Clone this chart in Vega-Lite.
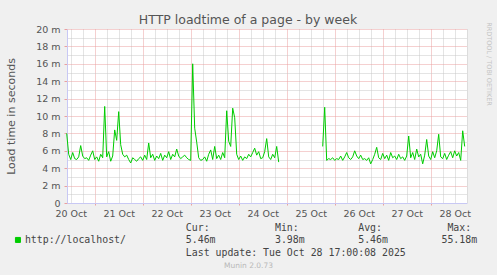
{
  "$schema": "https://vega.github.io/schema/vega-lite/v6.json",
  "width": 400,
  "height": 174,
  "autosize": "none",
  "padding": {"left": 67, "top": 29, "right": 30, "bottom": 72},
  "background": "#f0f0f0",
  "view": {"fill": "#ffffff", "stroke": null},
  "title": {"text": "HTTP loadtime of a page - by week", "font": "DejaVu Sans", "fontSize": 12.5, "fontWeight": "normal", "color": "#555555", "anchor": "middle", "frame": "group", "dx": -19, "dy": 20, "baseline": "alphabetic", "offset": 5},
  "data": {"values": [
    {"t": "2025-10-20T10:00Z", "v": 8.0, "s": "a"},
    {"t": "2025-10-20T11:00Z", "v": 5.6, "s": "a"},
    {"t": "2025-10-20T12:00Z", "v": 5.0, "s": "a"},
    {"t": "2025-10-20T13:00Z", "v": 5.8, "s": "a"},
    {"t": "2025-10-20T14:00Z", "v": 5.1, "s": "a"},
    {"t": "2025-10-20T15:00Z", "v": 5.0, "s": "a"},
    {"t": "2025-10-20T16:00Z", "v": 5.3, "s": "a"},
    {"t": "2025-10-20T17:00Z", "v": 6.6, "s": "a"},
    {"t": "2025-10-20T18:00Z", "v": 5.4, "s": "a"},
    {"t": "2025-10-20T19:00Z", "v": 5.1, "s": "a"},
    {"t": "2025-10-20T20:00Z", "v": 5.2, "s": "a"},
    {"t": "2025-10-20T21:00Z", "v": 4.9, "s": "a"},
    {"t": "2025-10-20T22:00Z", "v": 5.5, "s": "a"},
    {"t": "2025-10-20T23:00Z", "v": 6.0, "s": "a"},
    {"t": "2025-10-21T00:00Z", "v": 5.0, "s": "a"},
    {"t": "2025-10-21T01:00Z", "v": 5.3, "s": "a"},
    {"t": "2025-10-21T02:00Z", "v": 4.8, "s": "a"},
    {"t": "2025-10-21T03:00Z", "v": 5.6, "s": "a"},
    {"t": "2025-10-21T04:00Z", "v": 5.2, "s": "a"},
    {"t": "2025-10-21T05:00Z", "v": 11.1, "s": "a"},
    {"t": "2025-10-21T06:00Z", "v": 5.3, "s": "a"},
    {"t": "2025-10-21T07:00Z", "v": 5.9, "s": "a"},
    {"t": "2025-10-21T08:00Z", "v": 4.8, "s": "a"},
    {"t": "2025-10-21T09:00Z", "v": 5.4, "s": "a"},
    {"t": "2025-10-21T10:00Z", "v": 8.4, "s": "a"},
    {"t": "2025-10-21T11:00Z", "v": 7.2, "s": "a"},
    {"t": "2025-10-21T12:00Z", "v": 10.5, "s": "a"},
    {"t": "2025-10-21T13:00Z", "v": 6.7, "s": "a"},
    {"t": "2025-10-21T14:00Z", "v": 5.6, "s": "a"},
    {"t": "2025-10-21T15:00Z", "v": 5.3, "s": "a"},
    {"t": "2025-10-21T16:00Z", "v": 5.5, "s": "a"},
    {"t": "2025-10-21T17:00Z", "v": 5.0, "s": "a"},
    {"t": "2025-10-21T18:00Z", "v": 4.6, "s": "a"},
    {"t": "2025-10-21T19:00Z", "v": 5.2, "s": "a"},
    {"t": "2025-10-21T20:00Z", "v": 5.0, "s": "a"},
    {"t": "2025-10-21T21:00Z", "v": 4.8, "s": "a"},
    {"t": "2025-10-21T22:00Z", "v": 5.1, "s": "a"},
    {"t": "2025-10-21T23:00Z", "v": 5.3, "s": "a"},
    {"t": "2025-10-22T00:00Z", "v": 4.9, "s": "a"},
    {"t": "2025-10-22T01:00Z", "v": 5.5, "s": "a"},
    {"t": "2025-10-22T02:00Z", "v": 5.0, "s": "a"},
    {"t": "2025-10-22T03:00Z", "v": 6.9, "s": "a"},
    {"t": "2025-10-22T04:00Z", "v": 5.2, "s": "a"},
    {"t": "2025-10-22T05:00Z", "v": 5.6, "s": "a"},
    {"t": "2025-10-22T06:00Z", "v": 4.9, "s": "a"},
    {"t": "2025-10-22T07:00Z", "v": 5.4, "s": "a"},
    {"t": "2025-10-22T08:00Z", "v": 5.1, "s": "a"},
    {"t": "2025-10-22T09:00Z", "v": 5.7, "s": "a"},
    {"t": "2025-10-22T10:00Z", "v": 4.9, "s": "a"},
    {"t": "2025-10-22T11:00Z", "v": 5.5, "s": "a"},
    {"t": "2025-10-22T12:00Z", "v": 5.2, "s": "a"},
    {"t": "2025-10-22T13:00Z", "v": 5.9, "s": "a"},
    {"t": "2025-10-22T14:00Z", "v": 5.0, "s": "a"},
    {"t": "2025-10-22T15:00Z", "v": 5.6, "s": "a"},
    {"t": "2025-10-22T16:00Z", "v": 5.3, "s": "a"},
    {"t": "2025-10-22T17:00Z", "v": 6.2, "s": "a"},
    {"t": "2025-10-22T18:00Z", "v": 5.4, "s": "a"},
    {"t": "2025-10-22T19:00Z", "v": 5.1, "s": "a"},
    {"t": "2025-10-22T20:00Z", "v": 5.3, "s": "a"},
    {"t": "2025-10-22T21:00Z", "v": 5.5, "s": "a"},
    {"t": "2025-10-22T22:00Z", "v": 5.2, "s": "a"},
    {"t": "2025-10-22T23:00Z", "v": 5.0, "s": "a"},
    {"t": "2025-10-23T00:00Z", "v": 4.9, "s": "a"},
    {"t": "2025-10-23T01:00Z", "v": 16.0, "s": "a"},
    {"t": "2025-10-23T02:00Z", "v": 8.6, "s": "a"},
    {"t": "2025-10-23T03:00Z", "v": 7.0, "s": "a"},
    {"t": "2025-10-23T04:00Z", "v": 5.2, "s": "a"},
    {"t": "2025-10-23T05:00Z", "v": 4.9, "s": "a"},
    {"t": "2025-10-23T06:00Z", "v": 5.0, "s": "a"},
    {"t": "2025-10-23T07:00Z", "v": 5.3, "s": "a"},
    {"t": "2025-10-23T08:00Z", "v": 4.8, "s": "a"},
    {"t": "2025-10-23T09:00Z", "v": 5.6, "s": "a"},
    {"t": "2025-10-23T10:00Z", "v": 6.1, "s": "a"},
    {"t": "2025-10-23T11:00Z", "v": 5.0, "s": "a"},
    {"t": "2025-10-23T12:00Z", "v": 6.5, "s": "a"},
    {"t": "2025-10-23T13:00Z", "v": 5.1, "s": "a"},
    {"t": "2025-10-23T14:00Z", "v": 5.5, "s": "a"},
    {"t": "2025-10-23T15:00Z", "v": 5.0, "s": "a"},
    {"t": "2025-10-23T16:00Z", "v": 5.8, "s": "a"},
    {"t": "2025-10-23T17:00Z", "v": 5.2, "s": "a"},
    {"t": "2025-10-23T18:00Z", "v": 10.6, "s": "a"},
    {"t": "2025-10-23T19:00Z", "v": 7.1, "s": "a"},
    {"t": "2025-10-23T20:00Z", "v": 6.5, "s": "a"},
    {"t": "2025-10-23T21:00Z", "v": 10.9, "s": "a"},
    {"t": "2025-10-23T22:00Z", "v": 9.8, "s": "a"},
    {"t": "2025-10-23T23:00Z", "v": 5.6, "s": "a"},
    {"t": "2025-10-24T00:00Z", "v": 5.0, "s": "a"},
    {"t": "2025-10-24T01:00Z", "v": 5.4, "s": "a"},
    {"t": "2025-10-24T02:00Z", "v": 4.9, "s": "a"},
    {"t": "2025-10-24T03:00Z", "v": 5.3, "s": "a"},
    {"t": "2025-10-24T04:00Z", "v": 5.1, "s": "a"},
    {"t": "2025-10-24T05:00Z", "v": 5.6, "s": "a"},
    {"t": "2025-10-24T06:00Z", "v": 5.3, "s": "a"},
    {"t": "2025-10-24T07:00Z", "v": 5.8, "s": "a"},
    {"t": "2025-10-24T08:00Z", "v": 6.3, "s": "a"},
    {"t": "2025-10-24T09:00Z", "v": 5.5, "s": "a"},
    {"t": "2025-10-24T10:00Z", "v": 5.9, "s": "a"},
    {"t": "2025-10-24T11:00Z", "v": 5.1, "s": "a"},
    {"t": "2025-10-24T12:00Z", "v": 5.2, "s": "a"},
    {"t": "2025-10-24T13:00Z", "v": 5.9, "s": "a"},
    {"t": "2025-10-24T14:00Z", "v": 7.4, "s": "a"},
    {"t": "2025-10-24T15:00Z", "v": 5.3, "s": "a"},
    {"t": "2025-10-24T16:00Z", "v": 5.0, "s": "a"},
    {"t": "2025-10-24T17:00Z", "v": 5.6, "s": "a"},
    {"t": "2025-10-24T18:00Z", "v": 5.2, "s": "a"},
    {"t": "2025-10-24T19:00Z", "v": 6.5, "s": "a"},
    {"t": "2025-10-24T20:00Z", "v": 4.7, "s": "a"},
    {"t": "2025-10-25T18:00Z", "v": 6.5, "s": "b"},
    {"t": "2025-10-25T19:00Z", "v": 11.0, "s": "b"},
    {"t": "2025-10-25T20:00Z", "v": 4.9, "s": "b"},
    {"t": "2025-10-25T21:00Z", "v": 5.1, "s": "b"},
    {"t": "2025-10-25T22:00Z", "v": 5.0, "s": "b"},
    {"t": "2025-10-25T23:00Z", "v": 5.2, "s": "b"},
    {"t": "2025-10-26T00:00Z", "v": 4.9, "s": "b"},
    {"t": "2025-10-26T01:00Z", "v": 5.1, "s": "b"},
    {"t": "2025-10-26T02:00Z", "v": 5.0, "s": "b"},
    {"t": "2025-10-26T03:00Z", "v": 5.4, "s": "b"},
    {"t": "2025-10-26T04:00Z", "v": 4.9, "s": "b"},
    {"t": "2025-10-26T05:00Z", "v": 5.3, "s": "b"},
    {"t": "2025-10-26T06:00Z", "v": 5.8, "s": "b"},
    {"t": "2025-10-26T07:00Z", "v": 5.2, "s": "b"},
    {"t": "2025-10-26T08:00Z", "v": 5.0, "s": "b"},
    {"t": "2025-10-26T09:00Z", "v": 5.3, "s": "b"},
    {"t": "2025-10-26T10:00Z", "v": 6.0, "s": "b"},
    {"t": "2025-10-26T11:00Z", "v": 5.4, "s": "b"},
    {"t": "2025-10-26T12:00Z", "v": 5.1, "s": "b"},
    {"t": "2025-10-26T13:00Z", "v": 5.5, "s": "b"},
    {"t": "2025-10-26T14:00Z", "v": 5.0, "s": "b"},
    {"t": "2025-10-26T15:00Z", "v": 5.1, "s": "b"},
    {"t": "2025-10-26T16:00Z", "v": 4.9, "s": "b"},
    {"t": "2025-10-26T17:00Z", "v": 5.2, "s": "b"},
    {"t": "2025-10-26T18:00Z", "v": 4.5, "s": "b"},
    {"t": "2025-10-26T19:00Z", "v": 5.0, "s": "b"},
    {"t": "2025-10-26T20:00Z", "v": 5.6, "s": "b"},
    {"t": "2025-10-26T21:00Z", "v": 6.4, "s": "b"},
    {"t": "2025-10-26T22:00Z", "v": 5.2, "s": "b"},
    {"t": "2025-10-26T23:00Z", "v": 5.0, "s": "b"},
    {"t": "2025-10-27T00:00Z", "v": 5.7, "s": "b"},
    {"t": "2025-10-27T01:00Z", "v": 5.1, "s": "b"},
    {"t": "2025-10-27T02:00Z", "v": 5.5, "s": "b"},
    {"t": "2025-10-27T03:00Z", "v": 4.9, "s": "b"},
    {"t": "2025-10-27T04:00Z", "v": 5.8, "s": "b"},
    {"t": "2025-10-27T05:00Z", "v": 5.2, "s": "b"},
    {"t": "2025-10-27T06:00Z", "v": 5.4, "s": "b"},
    {"t": "2025-10-27T07:00Z", "v": 5.0, "s": "b"},
    {"t": "2025-10-27T08:00Z", "v": 5.6, "s": "b"},
    {"t": "2025-10-27T09:00Z", "v": 5.1, "s": "b"},
    {"t": "2025-10-27T10:00Z", "v": 5.3, "s": "b"},
    {"t": "2025-10-27T11:00Z", "v": 4.9, "s": "b"},
    {"t": "2025-10-27T12:00Z", "v": 5.4, "s": "b"},
    {"t": "2025-10-27T13:00Z", "v": 7.7, "s": "b"},
    {"t": "2025-10-27T14:00Z", "v": 5.2, "s": "b"},
    {"t": "2025-10-27T15:00Z", "v": 5.8, "s": "b"},
    {"t": "2025-10-27T16:00Z", "v": 5.0, "s": "b"},
    {"t": "2025-10-27T17:00Z", "v": 6.2, "s": "b"},
    {"t": "2025-10-27T18:00Z", "v": 5.3, "s": "b"},
    {"t": "2025-10-27T19:00Z", "v": 5.6, "s": "b"},
    {"t": "2025-10-27T20:00Z", "v": 4.5, "s": "b"},
    {"t": "2025-10-27T21:00Z", "v": 5.5, "s": "b"},
    {"t": "2025-10-27T22:00Z", "v": 7.3, "s": "b"},
    {"t": "2025-10-27T23:00Z", "v": 5.4, "s": "b"},
    {"t": "2025-10-28T00:00Z", "v": 5.0, "s": "b"},
    {"t": "2025-10-28T01:00Z", "v": 5.9, "s": "b"},
    {"t": "2025-10-28T02:00Z", "v": 5.2, "s": "b"},
    {"t": "2025-10-28T03:00Z", "v": 6.0, "s": "b"},
    {"t": "2025-10-28T04:00Z", "v": 7.9, "s": "b"},
    {"t": "2025-10-28T05:00Z", "v": 5.3, "s": "b"},
    {"t": "2025-10-28T06:00Z", "v": 5.1, "s": "b"},
    {"t": "2025-10-28T07:00Z", "v": 5.7, "s": "b"},
    {"t": "2025-10-28T08:00Z", "v": 5.0, "s": "b"},
    {"t": "2025-10-28T09:00Z", "v": 5.5, "s": "b"},
    {"t": "2025-10-28T10:00Z", "v": 5.9, "s": "b"},
    {"t": "2025-10-28T11:00Z", "v": 5.2, "s": "b"},
    {"t": "2025-10-28T12:00Z", "v": 6.0, "s": "b"},
    {"t": "2025-10-28T13:00Z", "v": 5.4, "s": "b"},
    {"t": "2025-10-28T14:00Z", "v": 5.8, "s": "b"},
    {"t": "2025-10-28T15:00Z", "v": 4.9, "s": "b"},
    {"t": "2025-10-28T16:00Z", "v": 8.3, "s": "b"},
    {"t": "2025-10-28T17:00Z", "v": 6.5, "s": "b"}
  ]},
  "layer": [
    {
      "mark": {"type": "point", "opacity": 0},
      "encoding": {
        "x": {"field": "t", "type": "temporal", "scale": {"type": "utc", "domain": [1760954940000, 1761674940000], "nice": false},
          "axis": {"orient": "bottom", "values": [1760961600000, 1760983200000, 1761026400000, 1761048000000, 1761069600000, 1761112800000, 1761134400000, 1761156000000, 1761199200000, 1761220800000, 1761242400000, 1761285600000, 1761307200000, 1761328800000, 1761372000000, 1761393600000, 1761415200000, 1761458400000, 1761480000000, 1761501600000, 1761544800000, 1761566400000, 1761588000000, 1761631200000, 1761652800000, 1761674400000],
            "grid": true, "gridColor": "#c8c8c8", "gridDash": [1, 1], "gridWidth": 1, "labels": false, "ticks": false, "domain": false,
            "title": "Munin 2.0.73", "titleFont": "DejaVu Sans", "titleFontSize": 7.5, "titleFontWeight": "normal", "titleColor": "#b8b8b8", "titleX": 181, "titleY": 64.3, "titleAlign": "center", "titleBaseline": "alphabetic"}},
        "y": {"field": "v", "type": "quantitative", "scale": {"domain": [0, 20], "nice": false},
          "axis": {"orient": "left", "values": [1, 3, 5, 7, 9, 11, 13, 15, 17, 19], "grid": true, "gridColor": "#c8c8c8", "gridDash": [1, 1], "labels": false, "ticks": false, "domain": false, "title": null}}
      }
    },
    {
      "mark": {"type": "point", "opacity": 0},
      "encoding": {
        "x": {"field": "t", "type": "temporal", "scale": {"type": "utc", "domain": [1760954940000, 1761674940000], "nice": false},
          "axis": {"orient": "bottom", "values": [1761004800000, 1761091200000, 1761177600000, 1761264000000, 1761350400000, 1761436800000, 1761523200000, 1761609600000],
            "grid": true, "gridColor": "#eaa0a0", "gridDash": [1, 1], "labels": false, "ticks": true, "tickSize": 2, "tickColor": "#eaa0a0", "domain": false, "title": null}},
        "y": {"field": "v", "type": "quantitative", "scale": {"domain": [0, 20], "nice": false},
          "axis": {"orient": "left", "values": [0, 2, 4, 6, 8, 10, 12, 14, 16, 18, 20], "grid": true, "gridColor": "#eaa0a0", "gridDash": [1, 1],
            "ticks": true, "tickSize": 3, "tickColor": "#eaa0a0", "domain": true, "domainColor": "#c8c8f4",
            "labelExpr": "datum.value == 0 ? '0' : datum.value + ' m'", "labelFont": "DejaVu Sans", "labelFontSize": 9.5, "labelColor": "#555555", "labelPadding": 4,
            "title": "Load time in seconds", "titleFont": "DejaVu Sans", "titleFontSize": 11, "titleFontWeight": "normal", "titleColor": "#555555", "titleX": -56, "titleY": 87, "titleAngle": -90, "titleAlign": "center", "titleBaseline": "middle"}}
      }
    },
    {
      "mark": {"type": "line", "strokeWidth": 1},
      "encoding": {
        "x": {"field": "t", "type": "temporal", "scale": {"type": "utc", "domain": [1760954940000, 1761674940000], "nice": false},
          "axis": {"orient": "bottom", "values": [1760961600000, 1761048000000, 1761134400000, 1761220800000, 1761307200000, 1761393600000, 1761480000000, 1761566400000, 1761652800000],
            "grid": false, "ticks": false, "domain": true, "domainColor": "#c8c8f4",
            "labelExpr": "utcFormat(datum.value, '%d Oct')", "labelFont": "DejaVu Sans", "labelFontSize": 9.5, "labelColor": "#555555", "labelPadding": 13.5, "labelBaseline": "alphabetic", "labelFlush": false, "labelOverlap": false,
            "title": ["Cur:\u00a0\u00a0\u00a0\u00a0\u00a0\u00a0\u00a0\u00a0\u00a0\u00a0\u00a0Min:\u00a0\u00a0\u00a0\u00a0\u00a0\u00a0\u00a0\u00a0\u00a0\u00a0Avg:\u00a0\u00a0\u00a0\u00a0\u00a0\u00a0\u00a0\u00a0\u00a0\u00a0\u00a0Max:", "\u00a05.46m\u00a0\u00a0\u00a0\u00a0\u00a0\u00a0\u00a0\u00a0\u00a0\u00a03.98m\u00a0\u00a0\u00a0\u00a0\u00a0\u00a0\u00a0\u00a0\u00a05.46m\u00a0\u00a0\u00a0\u00a0\u00a0\u00a0\u00a0\u00a0\u00a055.18m", "\u00a0\u00a0\u00a0\u00a0\u00a0\u00a0\u00a0\u00a0\u00a0\u00a0\u00a0\u00a0\u00a0Last update: Tue Oct 28 17:00:08 2025"],
            "titleFont": "DejaVu Sans Mono", "titleFontSize": 9.9, "titleFontWeight": "normal", "titleColor": "#444444", "titleX": 118.3, "titleY": 27.7, "titleAlign": "left", "titleBaseline": "alphabetic", "titleLineHeight": 12.2}},
        "y": {"field": "v", "type": "quantitative", "scale": {"domain": [0, 20], "nice": false},
          "axis": {"orient": "right", "grid": false, "labels": false, "ticks": false, "domain": false,
            "title": "RRDTOOL / TOBI OETIKER", "titleFont": "DejaVu Sans", "titleFontSize": 6.5, "titleFontWeight": "normal", "titleColor": "#c4c4c4", "titleAngle": 90, "titleX": 21, "titleY": 34.5, "titleAlign": "center", "titleBaseline": "middle"}},
        "detail": {"field": "s"},
        "color": {"datum": "http://localhost/", "type": "nominal", "scale": {"range": ["#00cc00"]},
          "legend": {"orient": "none", "legendX": -54, "legendY": 206, "title": null, "padding": 0, "symbolType": "square", "symbolSize": 25, "symbolStrokeWidth": 1, "labelFont": "DejaVu Sans Mono", "labelFontSize": 9.9, "labelColor": "#444444", "labelOffset": 2,
            "encode": {"symbols": {"update": {"fill": {"value": "#00cc00"}, "stroke": {"value": "#00cc00"}}}}}}
      }
    }
  ],
  "resolve": {"axis": {"x": "independent", "y": "independent"}}
}
